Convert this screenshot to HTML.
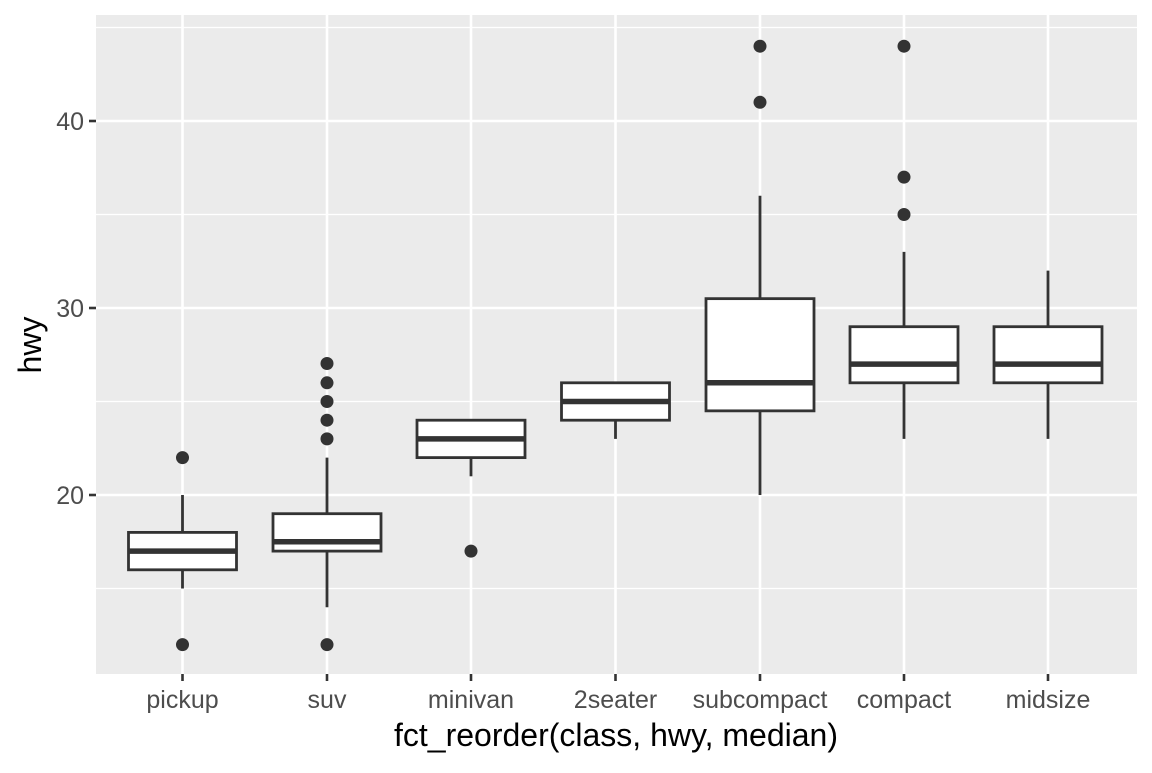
<!DOCTYPE html><html><head><style>body{margin:0;background:#fff}</style></head><body>
<svg width="1152" height="768" xmlns="http://www.w3.org/2000/svg" font-family="Liberation Sans, sans-serif">
<rect x="96" y="15" width="1041" height="659" fill="#ebebeb"/>
<g stroke="#fff" stroke-width="1.2">
<line x1="96" x2="1137" y1="588.5" y2="588.5"/><line x1="96" x2="1137" y1="401.5" y2="401.5"/><line x1="96" x2="1137" y1="214.5" y2="214.5"/><line x1="96" x2="1137" y1="27.5" y2="27.5"/>
</g>
<g stroke="#fff" stroke-width="2.6">
<line x1="96" x2="1137" y1="495" y2="495"/><line x1="96" x2="1137" y1="308" y2="308"/><line x1="96" x2="1137" y1="121" y2="121"/>
<line y1="15" y2="674" x1="182.5" x2="182.5"/><line y1="15" y2="674" x1="327" x2="327"/><line y1="15" y2="674" x1="471" x2="471"/><line y1="15" y2="674" x1="615.5" x2="615.5"/><line y1="15" y2="674" x1="760" x2="760"/><line y1="15" y2="674" x1="904" x2="904"/><line y1="15" y2="674" x1="1048" x2="1048"/>
</g>
<g stroke="#333" stroke-width="2.8" fill="#fff">
<line x1="182.5" x2="182.5" y1="495" y2="588.5"/><rect x="128.5" y="532.4" width="108" height="37.4"/><line x1="128.5" x2="236.5" y1="551.1" y2="551.1" stroke-width="5.5"/>
<line x1="327" x2="327" y1="457.6" y2="607.2"/><rect x="273" y="513.7" width="108" height="37.4"/><line x1="273" x2="381" y1="541.75" y2="541.75" stroke-width="5.5"/>
<line x1="471" x2="471" y1="420.2" y2="476.3"/><rect x="417" y="420.2" width="108" height="37.4"/><line x1="417" x2="525" y1="438.9" y2="438.9" stroke-width="5.5"/>
<line x1="615.5" x2="615.5" y1="382.8" y2="438.9"/><rect x="561.5" y="382.8" width="108" height="37.4"/><line x1="561.5" x2="669.5" y1="401.5" y2="401.5" stroke-width="5.5"/>
<line x1="760" x2="760" y1="195.8" y2="495"/><rect x="706" y="298.65" width="108" height="112.2"/><line x1="706" x2="814" y1="382.8" y2="382.8" stroke-width="5.5"/>
<line x1="904" x2="904" y1="251.9" y2="438.9"/><rect x="850" y="326.7" width="108" height="56.1"/><line x1="850" x2="958" y1="364.1" y2="364.1" stroke-width="5.5"/>
<line x1="1048" x2="1048" y1="270.6" y2="438.9"/><rect x="994" y="326.7" width="108" height="56.1"/><line x1="994" x2="1102" y1="364.1" y2="364.1" stroke-width="5.5"/>
</g>
<g fill="#333">
<circle cx="182.5" cy="457.6" r="6.5"/><circle cx="182.5" cy="644.6" r="6.5"/>
<circle cx="327" cy="363.5" r="6.5"/><circle cx="327" cy="382.8" r="6.5"/><circle cx="327" cy="401.5" r="6.5"/><circle cx="327" cy="420.2" r="6.5"/><circle cx="327" cy="438.9" r="6.5"/><circle cx="327" cy="644.6" r="6.5"/>
<circle cx="471" cy="551.1" r="6.5"/>
<circle cx="760" cy="46.2" r="6.5"/><circle cx="760" cy="102.3" r="6.5"/>
<circle cx="904" cy="46.2" r="6.5"/><circle cx="904" cy="177.1" r="6.5"/><circle cx="904" cy="214.5" r="6.5"/>
</g>
<g stroke="#333" stroke-width="2.6">
<line x1="89" x2="96" y1="495" y2="495"/><line x1="89" x2="96" y1="308" y2="308"/><line x1="89" x2="96" y1="121" y2="121"/>
<line x1="182.5" x2="182.5" y1="674" y2="681"/><line x1="327" x2="327" y1="674" y2="681"/><line x1="471" x2="471" y1="674" y2="681"/><line x1="615.5" x2="615.5" y1="674" y2="681"/><line x1="760" x2="760" y1="674" y2="681"/><line x1="904" x2="904" y1="674" y2="681"/><line x1="1048" x2="1048" y1="674" y2="681"/>
</g>
<g fill="#4d4d4d" font-size="25" text-anchor="end">
<text x="84" y="504">20</text><text x="84" y="317">30</text><text x="84" y="130">40</text>
</g>
<g fill="#4d4d4d" font-size="25" text-anchor="middle">
<text x="182.5" y="708">pickup</text><text x="327" y="708">suv</text><text x="471" y="708">minivan</text><text x="615.5" y="708">2seater</text><text x="760" y="708">subcompact</text><text x="904" y="708">compact</text><text x="1048" y="708">midsize</text>
</g>
<text x="616" y="746" font-size="32" text-anchor="middle" fill="#000">fct_reorder(class, hwy, median)</text>
<text transform="translate(41,345) rotate(-90)" font-size="32" text-anchor="middle" fill="#000">hwy</text>
</svg>
</body></html>
